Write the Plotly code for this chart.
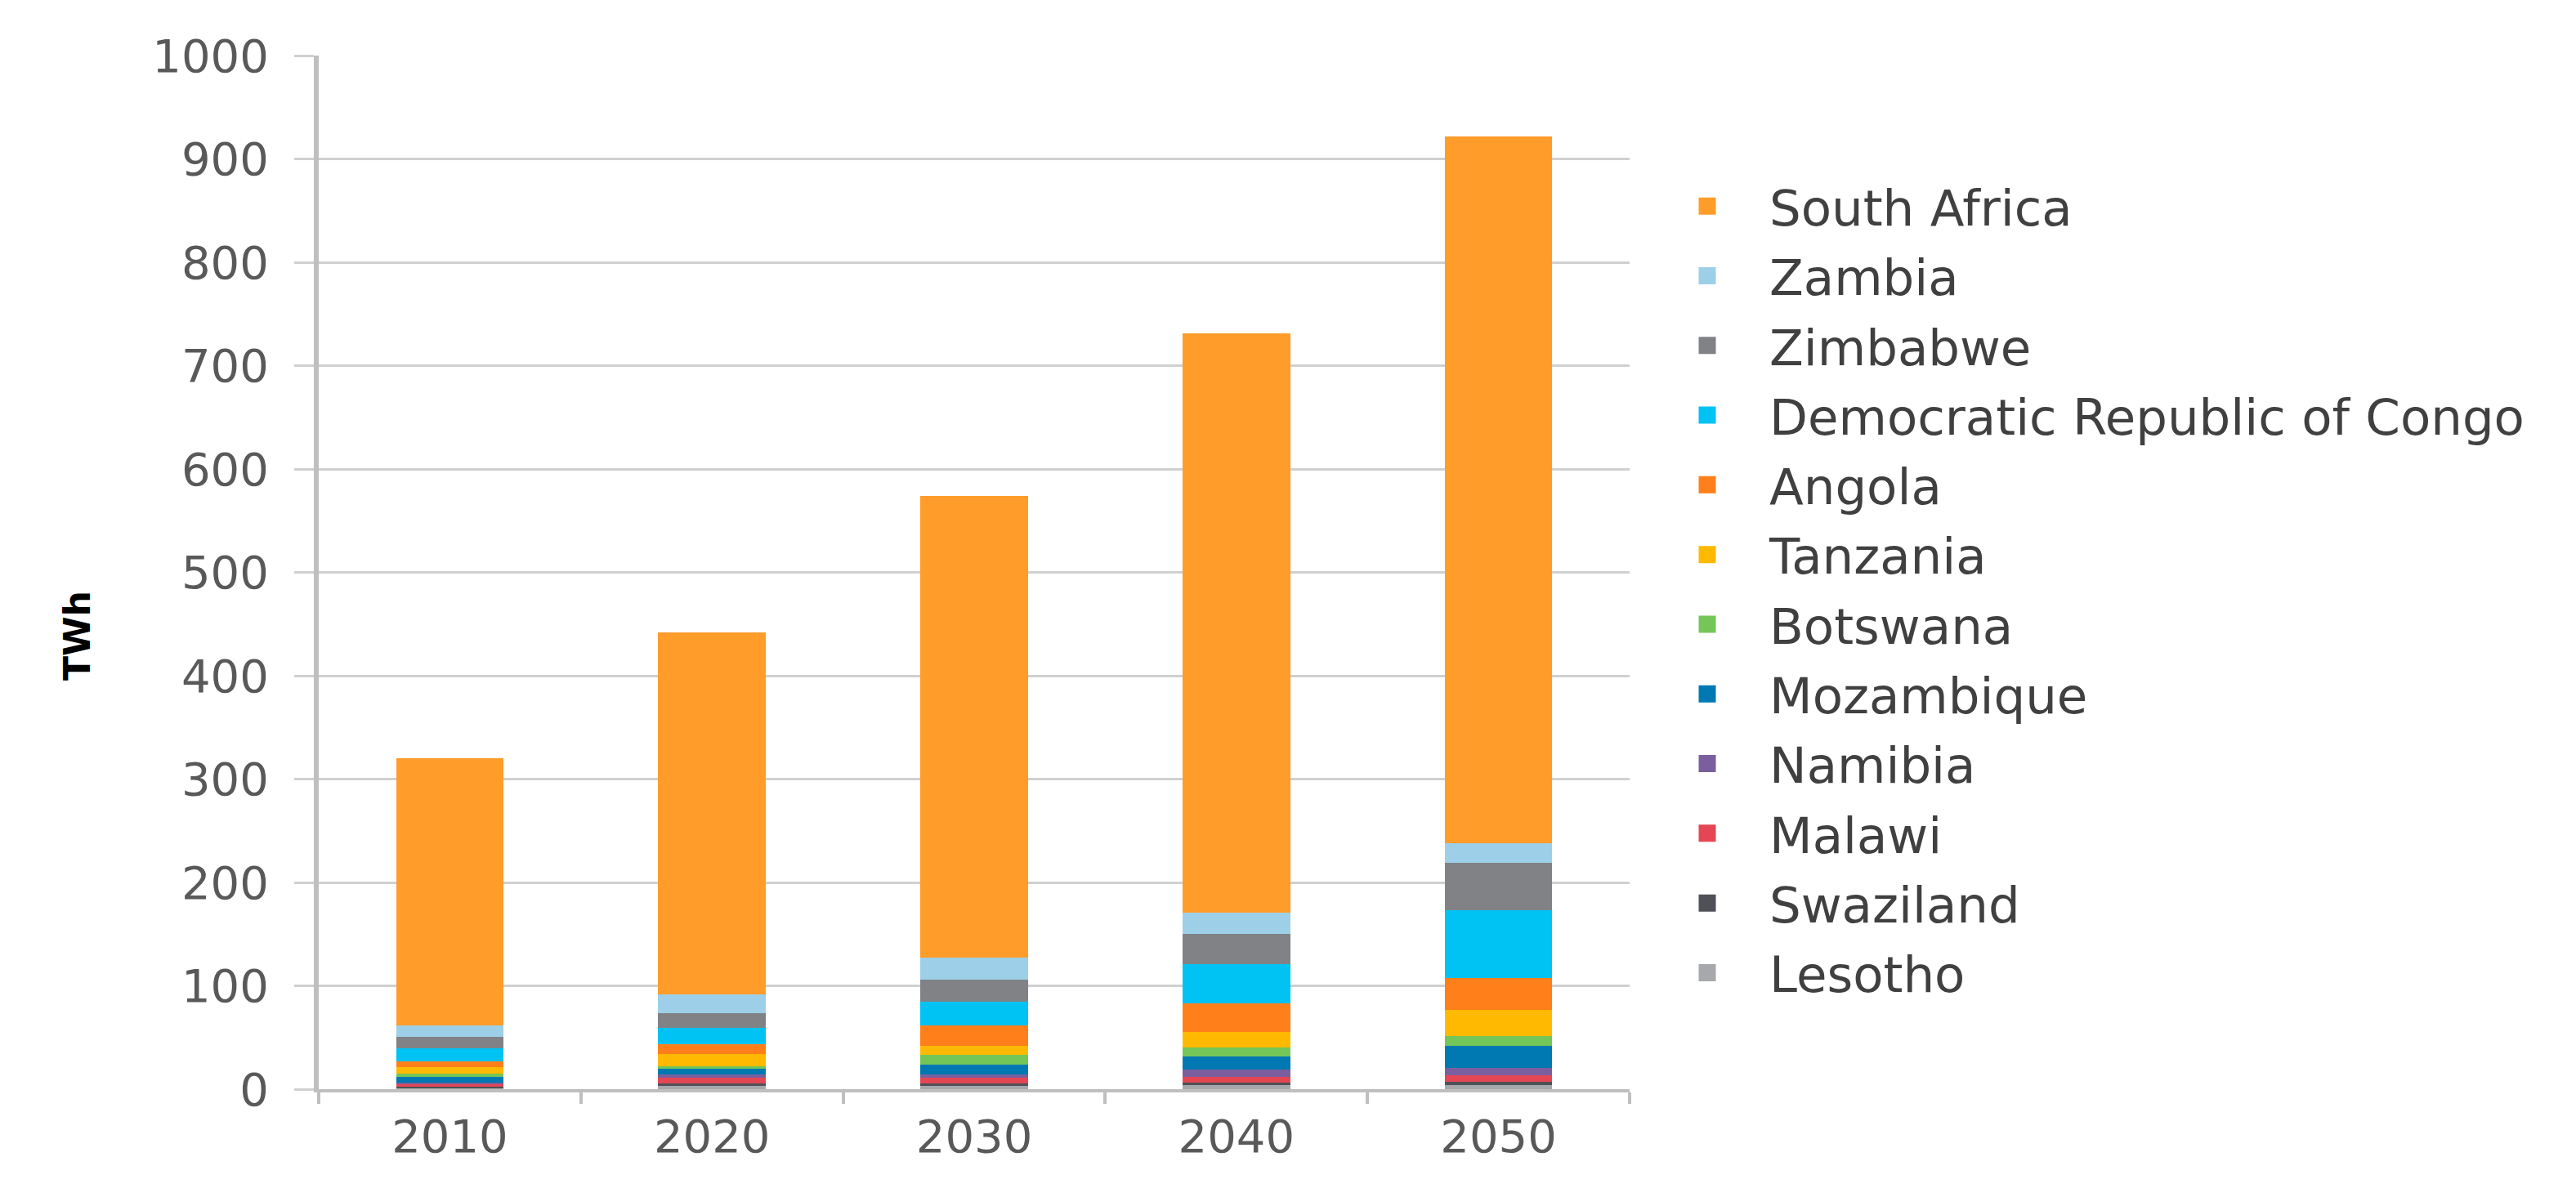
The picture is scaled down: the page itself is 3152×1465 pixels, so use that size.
import plotly.graph_objects as go

years = ["2010", "2020", "2030", "2040", "2050"]

# stacked from bottom to top
lesotho = [1.5, 3.3, 3.8, 4.0, 4.0]
swaziland = [1.0, 2.0, 1.5, 2.0, 3.1]
malawi = [2.0, 5.7, 6.0, 5.8, 6.1]
namibia = [2.0, 3.5, 2.7, 7.4, 7.1]
mozambique = [5.0, 5.0, 9.7, 12.6, 21.9]
botswana = [3.7, 2.9, 9.3, 8.5, 9.3]
tanzania = [6.3, 11.3, 9.2, 15.0, 25.0]
angola = [5.2, 9.7, 19.3, 28.0, 30.9]
drc = [12.7, 15.8, 22.9, 37.4, 66.0]
zimbabwe = [11.0, 14.5, 21.9, 29.6, 45.6]
zambia = [11.5, 18.0, 20.6, 20.6, 19.0]
south_africa = [258.0, 350.0, 447.0, 560.0, 684.0]

series = [
    ("Lesotho", lesotho, "#A6A8AB"),
    ("Swaziland", swaziland, "#4F5156"),
    ("Malawi", malawi, "#E44753"),
    ("Namibia", namibia, "#7B5E9E"),
    ("Mozambique", mozambique, "#0079B2"),
    ("Botswana", botswana, "#74C658"),
    ("Tanzania", tanzania, "#FFB900"),
    ("Angola", angola, "#FF7F1A"),
    ("Democratic Republic of Congo", drc, "#00C2F3"),
    ("Zimbabwe", zimbabwe, "#808285"),
    ("Zambia", zambia, "#9DD0E8"),
    ("South Africa", south_africa, "#FF9C2A"),
]

fig = go.Figure()
n = len(series)
for i, (name, vals, col) in enumerate(series):
    fig.add_trace(go.Bar(
        x=years, y=vals, name=name, legendgroup=name,
        marker=dict(color=col, line=dict(width=0)),
        width=0.41, showlegend=False,
    ))
    # legend entry (square swatch)
    fig.add_trace(go.Scatter(
        x=[None], y=[None], name=name, legendgroup=name,
        mode="markers",
        marker=dict(symbol="square", size=16, color=col,
                    line=dict(color=col, width=5)),
        legendrank=n - i, showlegend=True, hoverinfo="skip",
    ))

W, H = 3152, 1465
ml, mr, mt, mb = 382, 1166, 60, 140
tick_font = dict(family="DejaVu Sans", size=56, color="#595959")

fig.update_layout(
    width=W, height=H,
    margin=dict(l=ml, r=mr, t=mt, b=mb, autoexpand=False),
    barmode="stack",
    bargap=0.59,
    plot_bgcolor="white",
    paper_bgcolor="white",
    font=dict(family="DejaVu Sans", color="#404040"),
    showlegend=True,
    legend=dict(
        x=(2005 - ml) / (W - ml - mr), xanchor="left",
        y=(1325 - 198) / 1265, yanchor="top",
        traceorder="grouped",
        tracegroupgap=3,
        font=dict(family="DejaVu Sans", size=61, color="#404040"),
        itemwidth=142,
        bgcolor="rgba(0,0,0,0)",
    ),
    xaxis=dict(
        type="category",
        tickfont=tick_font,
        showline=True, linecolor="#BFBFBF", linewidth=4,
        ticks="outside", tickson="boundaries", ticklen=14,
        tickcolor="#BFBFBF", tickwidth=4,
        showgrid=False,
        ticklabelstandoff=6,
    ),
    yaxis=dict(
        range=[0, 1000],
        tickvals=[0, 100, 200, 300, 400, 500, 600, 700, 800, 900, 1000],
        tickfont=tick_font,
        showgrid=True, gridcolor="#D0D0D0", gridwidth=3,
        showline=True, linecolor="#BFBFBF", linewidth=6,
        ticks="outside", ticklen=24, tickcolor="#D0D0D0", tickwidth=3,
        ticklabelstandoff=20,
        zeroline=False,
    ),
    annotations=[dict(
        text="<b>TWh</b>", textangle=-90,
        xref="paper", yref="paper",
        x=(86 - ml) / (W - ml - mr), y=(1325 - 770) / 1265,
        xanchor="center", yanchor="middle", showarrow=False,
        font=dict(family="DejaVu Sans", size=44, color="#000000"),
    )],
)

fig.write_html("out.html")
